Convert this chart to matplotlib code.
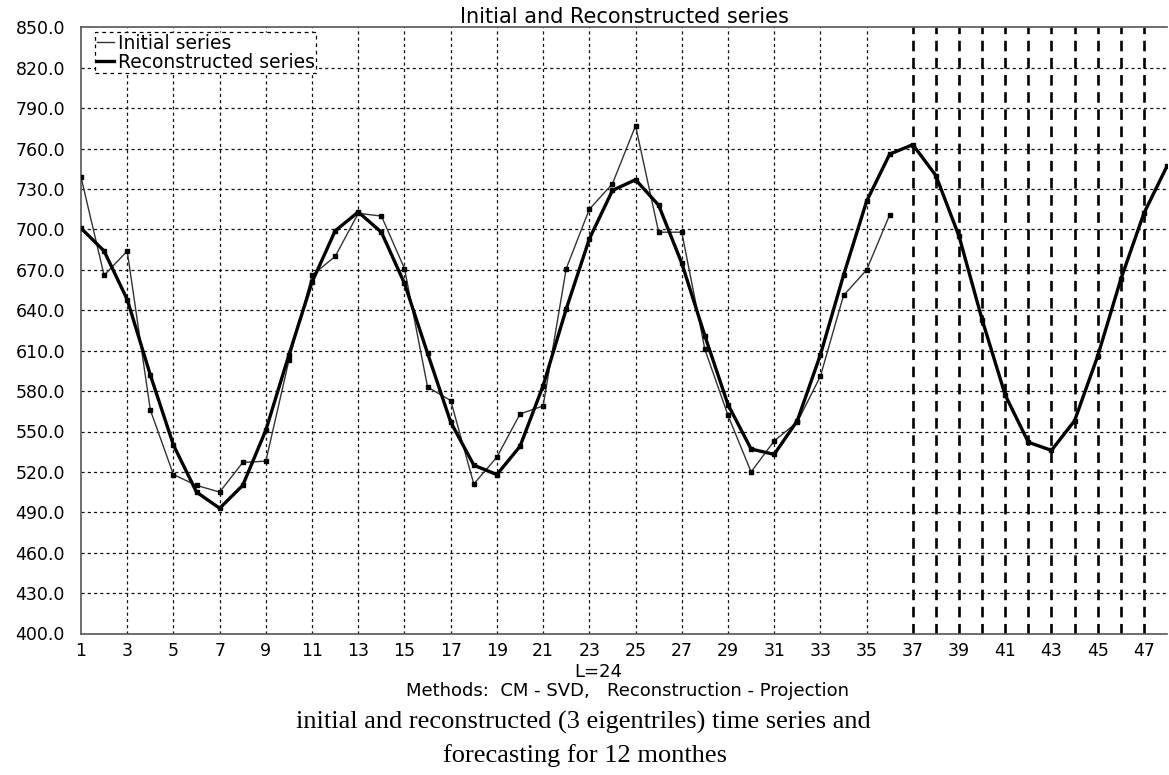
import matplotlib
matplotlib.use("Agg")
import matplotlib.pyplot as plt
import numpy as np

# ---------------- data ----------------
initial_series = [739, 666, 684, 566, 518, 510, 505, 527, 528, 603,
                  666, 680, 712, 710, 671, 583, 573, 511, 531, 563,
                  569, 671, 715, 734, 777, 698, 698, 611, 562, 520,
                  543, 557, 591, 651, 670, 711]
reconstructed_series = [701, 684, 648, 592, 540, 505, 493, 510, 551, 607,
                        661, 699, 713, 698, 660, 608, 557, 525, 518, 539,
                        584, 641, 693, 729, 737, 718, 675, 621, 570, 537,
                        533, 558, 607, 666, 721, 756, 763, 740, 695, 633,
                        577, 542, 536, 558, 606, 663, 712, 747]
x_tick_labels = [str(v) for v in range(1, 48, 2)]
y_ticks = [400, 430, 460, 490, 520, 550, 580, 610, 640, 670, 700, 730, 760, 790, 820, 850]

title = "Initial and Reconstructed series"
legend_labels = ["Initial series", "Reconstructed series"]
xlabel_1 = "L=24"
xlabel_2 = "Methods:  CM - SVD,   Reconstruction - Projection"
caption_1 = "initial and reconstructed (3 eigentriles) time series and"
caption_2 = "forecasting for 12 monthes"

# ---------------- figure ----------------
W, H = 1169, 775
fig = plt.figure(figsize=(W / 100, H / 100), dpi=100)
ax = fig.add_axes([81 / W, 1 - 633.5 / H, (1167 - 81) / W, (633.5 - 27.5) / H])

x_init = np.arange(1, len(initial_series) + 1)
x_rec = np.arange(1, len(reconstructed_series) + 1)

ax.set_xlim(1, len(reconstructed_series))
ax.set_ylim(400, 850)

# grid lines
for yv in y_ticks[1:-1]:
    ax.axhline(yv, color="#111111", lw=0.9, ls=(0, (2.5, 2.5)), zorder=1)
xt = [int(s) for s in x_tick_labels]
for xv in xt:
    if 1 < xv <= len(initial_series):
        ax.axvline(xv, color="#111111", lw=0.9, ls=(0, (2.5, 2.5)), zorder=1)
for xv in range(len(initial_series) + 1, len(reconstructed_series)):
    ax.axvline(xv, color="black", lw=1.9, ls=(0, (4, 2.5)), zorder=1)

l1, = ax.plot(x_init, initial_series, color="#333333", lw=1.0, marker="s",
              markersize=3.0, markerfacecolor="black", markeredgecolor="black", zorder=3)
l2, = ax.plot(x_rec, reconstructed_series, color="black", lw=2.4, marker="s",
              markersize=3.0, markerfacecolor="black", markeredgecolor="black", zorder=4)

ax.set_xticks(xt)
ax.set_xticklabels(x_tick_labels)
ax.set_yticks(y_ticks)
ax.set_yticklabels([f"{v:.1f}" for v in y_ticks])
ax.tick_params(axis="both", length=0, labelsize=12.5, colors="black")
ax.tick_params(axis="y", pad=11.5)
ax.tick_params(axis="x", pad=6)

for s in ["left", "bottom", "top"]:
    ax.spines[s].set_color("#555555")
    ax.spines[s].set_linewidth(1.2)
ax.spines["right"].set_visible(False)

ax.set_title(title, fontsize=15, pad=2)

leg = ax.legend([l1, l2], legend_labels, loc="upper left",
                bbox_to_anchor=(0.013, 0.993), fontsize=13.5, frameon=True,
                fancybox=False, edgecolor="black", framealpha=1,
                handlelength=0.9, handletextpad=0.2, borderpad=0.1,
                labelspacing=0.0, borderaxespad=0.0)
for h in leg.legend_handles:
    h.set_marker("")
leg.get_frame().set_linestyle((0, (3, 3)))
leg.get_frame().set_linewidth(0.9)

fig.text(598 / W, 1 - 672 / H, xlabel_1, ha="center", va="center", fontsize=13)
fig.text(627 / W, 1 - 691 / H, xlabel_2, ha="center", va="center", fontsize=13)
fig.text(583 / W, 1 - 722 / H, caption_1, ha="center", va="center",
         fontsize=19, family="Liberation Serif")
fig.text(585 / W, 1 - 756 / H, caption_2, ha="center", va="center",
         fontsize=19, family="Liberation Serif")

fig.savefig("out.png", dpi=100)
